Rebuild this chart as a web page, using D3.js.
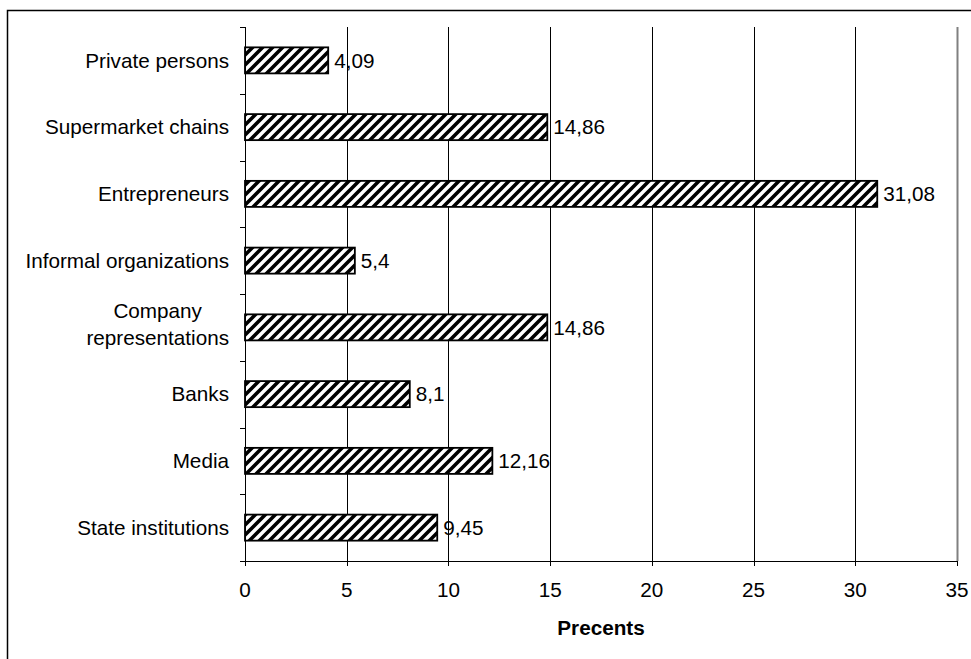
<!DOCTYPE html>
<html>
<head>
<meta charset="utf-8">
<script src="https://cdn.jsdelivr.net/npm/d3@7"></script>
<style>
  body { margin: 0; background: #fff; }
  svg { display: block; font-family: "Liberation Sans", Arial, sans-serif; }
</style>
</head>
<body>
<svg width="971" height="659"></svg>
<script>
// data
var categories = ["Private persons", "Supermarket chains", "Entrepreneurs", "Informal organizations",
                  "Company\nrepresentations", "Banks", "Media", "State institutions"];
var values = [4.09, 14.86, 31.08, 5.4, 14.86, 8.1, 12.16, 9.45];
var valueLabels = ["4,09", "14,86", "31,08", "5,4", "14,86", "8,1", "12,16", "9,45"];
var xTicks = [0, 5, 10, 15, 20, 25, 30, 35];
var xTitle = "Precents";

var fs = "20.7px";
var svg = d3.select("svg");

// outer frame (right and bottom edges fall outside the picture)
svg.append("rect")
  .attr("x", 7.5).attr("y", 10.5)
  .attr("width", 1000).attr("height", 700)
  .attr("fill", "#fff").attr("stroke", "#000").attr("stroke-width", 1.5);

var x = d3.scaleLinear().domain([0, 35]).range([245, 957]);
var y = d3.scaleBand().domain(categories).range([27, 561])
  .paddingInner(0.61).paddingOuter(0.305);

// hatch pattern
var defs = svg.append("defs");
var pat = defs.append("pattern")
  .attr("id", "hatch")
  .attr("patternUnits", "userSpaceOnUse")
  .attr("width", 10).attr("height", 10);
pat.append("rect").attr("width", 10).attr("height", 10).attr("fill", "#fff");
pat.append("path")
  .attr("d", "M-2,2 L2,-2 M0,10 L10,0 M8,12 L12,8")
  .attr("stroke", "#000").attr("stroke-width", 3.6);

// gridlines
var g = svg.append("g");
g.selectAll(".grid")
  .data(xTicks.slice(1))
  .enter().append("line")
    .attr("class", "grid")
    .attr("x1", function(d) { return Math.round(x(d)) + 0.5; })
    .attr("x2", function(d) { return Math.round(x(d)) + 0.5; })
    .attr("y1", 27).attr("y2", 561)
    .attr("stroke", function(d) { return d == 35 ? "#808080" : "#000"; })
    .attr("stroke-width", function(d) { return d == 35 ? 2 : 1; });

// bars
g.selectAll(".bar")
  .data(categories)
  .enter().append("rect")
    .attr("class", "bar")
    .attr("x", x(0))
    .attr("y", function(d) { return y(d); })
    .attr("width", function(d, i) { return x(values[i]) - x(0); })
    .attr("height", y.bandwidth())
    .attr("fill", "url(#hatch)")
    .attr("stroke", "#000")
    .attr("stroke-width", 1.8);

// value labels
g.selectAll(".val")
  .data(categories)
  .enter().append("text")
    .attr("class", "val")
    .attr("x", function(d, i) { return x(values[i]) + 6; })
    .attr("y", function(d) { return y(d) + y.bandwidth() / 2; })
    .attr("dy", "0.35em")
    .style("font-size", fs)
    .text(function(d, i) { return valueLabels[i]; });

// left axis
g.append("line")
  .attr("x1", 245.5).attr("x2", 245.5).attr("y1", 27).attr("y2", 566)
  .attr("stroke", "#000");
var bounds = d3.range(categories.length + 1).map(function(i) { return 27 + i * y.step(); });
g.selectAll(".ytick")
  .data(bounds)
  .enter().append("line")
    .attr("x1", 240).attr("x2", 245)
    .attr("y1", function(d) { return Math.round(d) + 0.5; })
    .attr("y2", function(d) { return Math.round(d) + 0.5; })
    .attr("stroke", "#000");

// category labels
g.selectAll(".cat")
  .data(categories)
  .enter().append("text")
    .attr("class", "cat")
    .style("font-size", fs)
    .attr("text-anchor", "middle")
    .each(function(d) {
      var t = d3.select(this), lines = d.split("\n");
      var cy = y(d) + y.bandwidth() / 2;
      lines.forEach(function(l, k) {
        t.append("tspan")
          .attr("y", cy + (k - (lines.length - 1) / 2) * 27 - (lines.length > 1 ? 3 : 0))
          .attr("dy", "0.35em")
          .text(l);
      });
      var w = d3.max(t.selectAll("tspan").nodes(), function(n) { return n.getComputedTextLength(); });
      t.selectAll("tspan").attr("x", 229 - w / 2);
    });

// bottom axis
g.append("line")
  .attr("x1", 240).attr("x2", 957).attr("y1", 561.5).attr("y2", 561.5)
  .attr("stroke", "#000");
g.selectAll(".xtick")
  .data(xTicks)
  .enter().append("line")
    .attr("x1", function(d) { return Math.round(x(d)) + 0.5; })
    .attr("x2", function(d) { return Math.round(x(d)) + 0.5; })
    .attr("y1", 561).attr("y2", 566)
    .attr("stroke", "#000");
g.selectAll(".xlab")
  .data(xTicks)
  .enter().append("text")
    .attr("x", function(d) { return x(d); })
    .attr("y", 597)
    .attr("text-anchor", "middle")
    .style("font-size", fs)
    .text(function(d) { return d; });

svg.append("text")
  .attr("x", (x(0) + x(35)) / 2)
  .attr("y", 635)
  .attr("text-anchor", "middle")
  .style("font-size", fs)
  .style("font-weight", "bold")
  .text(xTitle);
</script>
</body>
</html>
